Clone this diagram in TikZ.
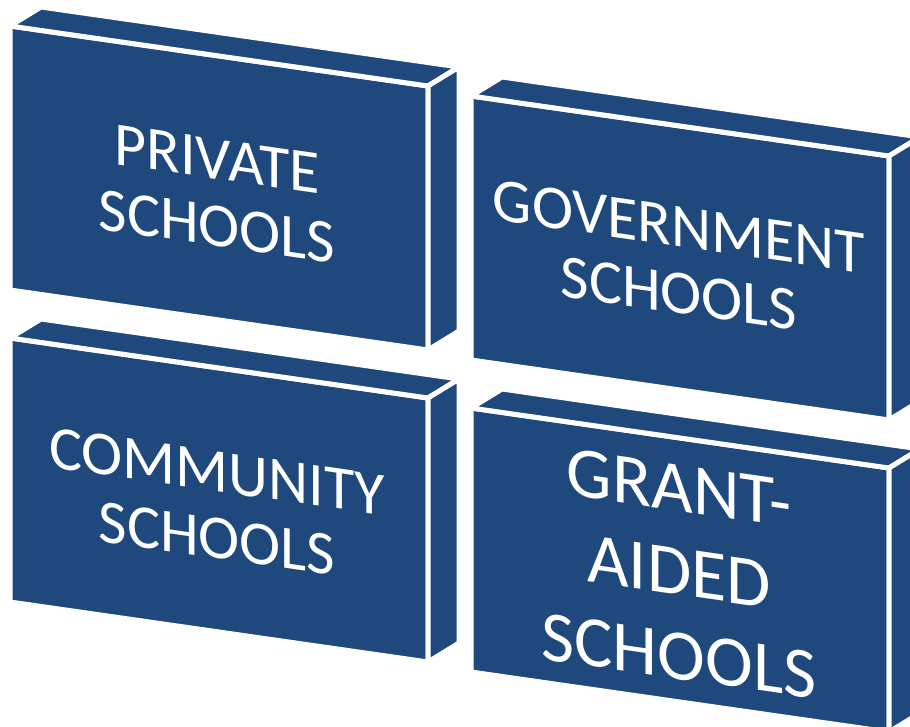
\documentclass[tikz,border=0pt]{standalone}
\usepackage{fontspec}
\newfontfamily\calib{Carlito}
\definecolor{slabblue}{HTML}{1F497D}
\tikzset{
  slab/.style={fill=slabblue, draw=white, line width=2.5pt, line join=round},
  boxtext/.style={text=white, align=center, inner sep=0pt, transform shape, yslant=-0.145,
    font=\calib\fontsize{31}{33.5}\selectfont},
  bigtext/.style={boxtext, font=\calib\fontsize{36}{42}\selectfont}
}
\begin{document}
\begin{tikzpicture}[x=0.5pt, y=-0.5pt]
\clip (0,0) rectangle (910,727);

% four slabs, shifted copies of the same box
\foreach \sx/\sy in {0/0, 461/70, 0/312, 461/382} {
  \begin{scope}[shift={(\sx,\sy)}]
  \path (10,26) coordinate (ftl) (428,86) coordinate (ftr)
        (428,350) coordinate (fbr) (10,290) coordinate (fbl);
  \filldraw[slab] (ftl) -- (ftr) -- (fbr) -- (fbl) -- cycle;
  \filldraw[slab] (ftl) -- ++(31,-19) -- ++(418,60) -- (ftr) -- cycle;
  \filldraw[slab] (ftr) -- ++(31,-19) -- ++(0,264) -- (fbr) -- cycle;
  \end{scope}
}

\node[boxtext] (private) at (217,193) {PRIVATE\\SCHOOLS};
\node[boxtext] (government) at (679,260) {GOVERNMENT\\SCHOOLS};
\node[boxtext] (community) at (217,505) {COMMUNITY\\SCHOOLS};
\node[bigtext] (grant) at (679,572) {GRANT-\\AIDED\\SCHOOLS};

\end{tikzpicture}
\end{document}
